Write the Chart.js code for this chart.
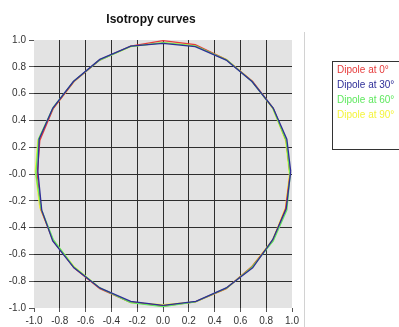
<!DOCTYPE html>
<html>
<head>
<meta charset="utf-8">
<script src="https://cdn.jsdelivr.net/npm/chart.js@4.4.0/dist/chart.umd.min.js"></script>
<style>
  html, body { margin: 0; padding: 0; background: #ffffff; }
  #wrap { position: relative; width: 399px; height: 327px; }
</style>
</head>
<body>
<div id="wrap"><canvas id="c" width="399" height="327"></canvas></div>
<script>
// Chart text
const chartTitle = 'Isotropy curves';
const seriesNames = ['Dipole at 0°', 'Dipole at 30°', 'Dipole at 60°', 'Dipole at 90°'];
const seriesColors = ['#e63b3b', '#2e2e98', '#5fe85f', '#f4f43c'];

// Axis ticks (both axes run from -1 to 1)
const tickValues = [-1.0, -0.8, -0.6, -0.4, -0.2, 0.0, 0.2, 0.4, 0.6, 0.8, 1.0];
const xTickLabels = ['-1.0', '-0.8', '-0.6', '-0.4', '-0.2', '0.0', '0.2', '0.4', '0.6', '0.8', '1.0'];
const yTickLabels = ['-1.0', '-0.8', '-0.6', '-0.4', '-0.2', '-0.0', '0.2', '0.4', '0.6', '0.8', '1.0'];

// Isotropy curve samples, every 15 degrees of azimuth, closed loop
const dipole0X  = [0.985, 0.955, 0.855, 0.695, 0.49, 0.25, 0.00, -0.25, -0.49, -0.69, -0.85, -0.955, -0.975, -0.945, -0.85, -0.69, -0.49, -0.26, 0.00, 0.25, 0.49, 0.69, 0.85, 0.95, 0.985];
const dipole0Y  = [0.00, 0.25, 0.49, 0.69, 0.855, 0.965, 0.995, 0.955, 0.85, 0.69, 0.49, 0.25, 0.00, -0.27, -0.50, -0.70, -0.855, -0.955, -0.985, -0.955, -0.855, -0.69, -0.50, -0.26, 0.00];

const dipole30X = [0.99, 0.96, 0.855, 0.69, 0.49, 0.25, 0.00, -0.25, -0.49, -0.695, -0.855, -0.96, -0.97, -0.94, -0.855, -0.69, -0.49, -0.25, 0.00, 0.255, 0.49, 0.695, 0.85, 0.955, 0.99];
const dipole30Y = [0.02, 0.26, 0.49, 0.69, 0.85, 0.95, 0.975, 0.955, 0.855, 0.69, 0.49, 0.26, 0.02, -0.27, -0.50, -0.70, -0.85, -0.95, -0.98, -0.95, -0.85, -0.70, -0.49, -0.26, 0.02];

const dipole60X = [0.985, 0.955, 0.85, 0.69, 0.495, 0.255, 0.00, -0.255, -0.49, -0.69, -0.85, -0.965, -0.985, -0.945, -0.85, -0.695, -0.49, -0.25, 0.00, 0.25, 0.495, 0.69, 0.855, 0.96, 0.985];
const dipole60Y = [-0.01, 0.25, 0.495, 0.69, 0.85, 0.955, 0.98, 0.95, 0.85, 0.695, 0.50, 0.26, 0.00, -0.26, -0.49, -0.69, -0.85, -0.96, -0.99, -0.955, -0.85, -0.695, -0.50, -0.27, -0.01];

const dipole90X = [0.98, 0.95, 0.85, 0.69, 0.49, 0.245, 0.00, -0.25, -0.495, -0.69, -0.85, -0.97, -0.99, -0.955, -0.855, -0.69, -0.49, -0.25, 0.00, 0.25, 0.49, 0.69, 0.85, 0.95, 0.98];
const dipole90Y = [0.00, 0.25, 0.49, 0.695, 0.855, 0.96, 0.98, 0.95, 0.85, 0.69, 0.49, 0.25, 0.02, -0.25, -0.49, -0.69, -0.85, -0.96, -0.975, -0.955, -0.855, -0.69, -0.49, -0.25, 0.00];

const seriesX = [dipole0X, dipole30X, dipole60X, dipole90X];
const seriesY = [dipole0Y, dipole30Y, dipole60Y, dipole90Y];
// stacking: the 30° curve sits on top, the 90° curve underneath
const drawOrder = [2, 0, 1, 3];

const FONT = 'Arial, "Liberation Sans", sans-serif';

const datasets = seriesNames.map((name, i) => ({
  label: name,
  data: seriesX[i].map((x, k) => ({ x: x, y: seriesY[i][k] })),
  showLine: true,
  borderColor: seriesColors[i],
  backgroundColor: seriesColors[i],
  borderWidth: 1.3,
  pointRadius: 0,
  tension: 0,
  fill: false,
  order: drawOrder[i]
}));

const edgeTick = ctx => (ctx.index === 0 || ctx.index === tickValues.length - 1);

function axis(labels, isX) {
  return {
    type: 'linear',
    min: -1,
    max: 1,
    afterBuildTicks: s => { s.ticks = tickValues.map(v => ({ value: v })); },
    afterFit: s => { if (isX) { s.height = 19; } else { s.width = 34; } },
    border: { display: false },
    grid: {
      color: ctx => edgeTick(ctx) ? 'rgba(0,0,0,0)' : '#2e2e2e',
      lineWidth: 1,
      drawTicks: true,
      tickLength: isX ? 4 : 5,
      tickColor: '#555555'
    },
    ticks: {
      autoSkip: false,
      maxRotation: 0,
      minRotation: 0,
      padding: 3,
      color: '#333333',
      font: { family: FONT, size: 10 },
      callback: (v, i) => labels[i]
    }
  };
}

const decorations = {
  id: 'decorations',
  beforeDraw(chart) {
    const a = chart.chartArea;
    const g = chart.ctx;
    g.save();
    g.fillStyle = '#e3e3e3';
    g.fillRect(a.left, a.top, a.right - a.left, a.bottom - a.top);
    g.restore();
  },
  afterDraw(chart) {
    const g = chart.ctx;
    g.save();
    // title
    g.fillStyle = '#111111';
    g.font = 'bold 12px ' + FONT;
    g.textAlign = 'center';
    g.textBaseline = 'middle';
    g.fillText(chartTitle, 151, 20);
    // separator between plot and legend
    g.strokeStyle = '#d2d2d2';
    g.lineWidth = 1;
    g.beginPath();
    g.moveTo(304.5, 32);
    g.lineTo(304.5, 327);
    g.stroke();
    // legend box
    g.strokeStyle = '#333333';
    g.strokeRect(332.5, 61.5, 80, 88);
    g.font = '10px ' + FONT;
    g.textAlign = 'left';
    seriesNames.forEach((name, i) => {
      g.fillStyle = seriesColors[i];
      g.fillText(name, 337, 70 + i * 15);
    });
    g.restore();
  }
};

new Chart(document.getElementById('c'), {
  type: 'scatter',
  data: { datasets: datasets },
  options: {
    responsive: false,
    devicePixelRatio: 1,
    animation: false,
    layout: { padding: { top: 40, right: 107, left: 0, bottom: 0 } },
    plugins: {
      legend: { display: false },
      title: { display: false },
      tooltip: { enabled: false }
    },
    scales: {
      x: axis(xTickLabels, true),
      y: axis(yTickLabels, false)
    }
  },
  plugins: [decorations]
});
</script>
</body>
</html>
